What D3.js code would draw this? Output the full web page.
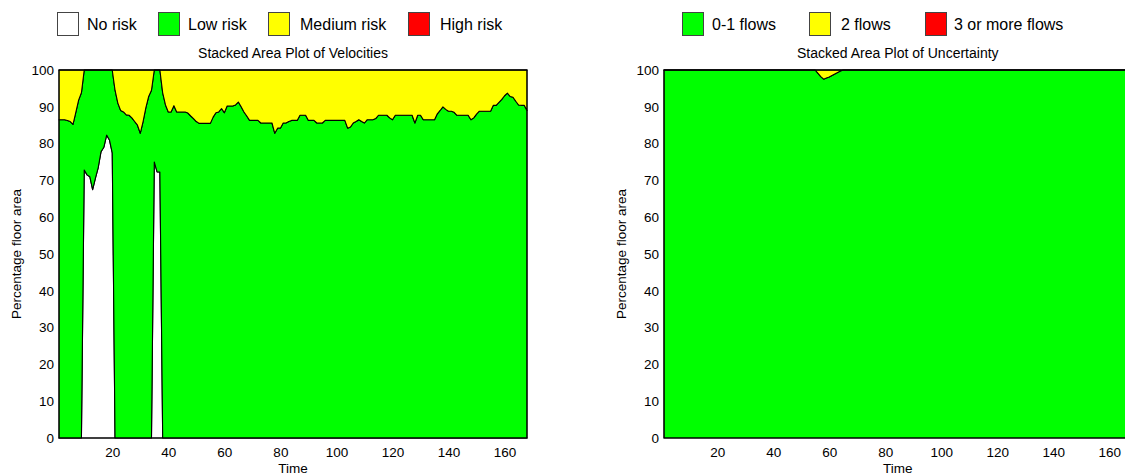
<!DOCTYPE html>
<html>
<head>
<meta charset="utf-8">
<script src="https://cdn.jsdelivr.net/npm/d3@7"></script>
<style>
  html, body { margin: 0; padding: 0; background: #fff; }
  svg { display: block; font-family: "Liberation Sans", Arial, Helvetica, sans-serif; }
</style>
</head>
<body>
<svg id="chart" width="1125" height="476"></svg>
<script>
// ---------------- DATA ----------------
const time = d3.range(1, 169); // time steps 1..168

const xTicks = [20, 40, 60, 80, 100, 120, 140, 160];
const yTicks = [0, 10, 20, 30, 40, 50, 60, 70, 80, 90, 100];

// Velocities (percentage floor area)
const noRisk = [
  0,0,0,0,0,0,0,0,0,72.8,
  71.5,71.0,67.5,70.6,73.5,77.8,79.0,82.3,81.0,77.5,
  0,0,0,0,0,0,0,0,0,0,
  0,0,0,0,75.0,72.3,72.3,0,0,0,
  0,0,0,0,0,0,0,0,0,0,
  0,0,0,0,0,0,0,0,0,0,
  0,0,0,0,0,0,0,0,0,0,
  0,0,0,0,0,0,0,0,0,0,
  0,0,0,0,0,0,0,0,0,0,
  0,0,0,0,0,0,0,0,0,0,
  0,0,0,0,0,0,0,0,0,0,
  0,0,0,0,0,0,0,0,0,0,
  0,0,0,0,0,0,0,0,0,0,
  0,0,0,0,0,0,0,0,0,0,
  0,0,0,0,0,0,0,0,0,0,
  0,0,0,0,0,0,0,0,0,0,
  0,0,0,0,0,0,0,0
];
const lowRisk = [
  86.5,86.5,86.5,86.3,86.0,85.2,88.5,91.8,93.8,27.2,
  28.5,29.0,32.5,29.4,26.5,22.2,21.0,17.7,19.0,22.5,
  94.5,91.0,89.0,88.6,87.8,87.7,87.0,86.0,85.0,82.8,
  86.0,89.8,92.8,94.5,25.0,27.7,27.7,93.8,90.5,88.6,
  88.6,90.3,88.6,88.6,88.6,88.6,88.3,87.5,86.8,86.0,
  85.5,85.5,85.5,85.5,85.5,87.2,88.4,88.6,89.5,88.4,
  90.2,90.2,90.2,90.5,91.3,90.0,88.6,87.5,86.3,86.3,
  86.3,86.3,85.6,85.6,85.6,85.6,85.6,82.8,84.2,84.2,
  85.6,85.6,86.0,86.3,86.3,86.3,87.7,87.7,87.7,86.3,
  86.3,86.3,85.6,85.6,85.6,86.3,86.3,86.3,86.3,86.3,
  86.3,86.3,86.3,84.2,84.5,85.6,86.0,86.5,86.0,85.6,
  86.5,86.5,86.5,86.8,87.7,87.7,87.7,87.7,87.0,86.5,
  87.7,87.7,87.7,87.7,87.7,87.7,87.7,85.6,87.7,87.7,
  86.5,86.5,86.5,86.5,86.5,88.1,89.0,90.0,89.3,88.8,
  88.8,88.5,87.7,87.7,87.7,87.7,87.7,86.5,87.0,88.0,
  88.8,88.8,88.8,88.8,88.8,90.4,90.4,91.2,92.0,93.0,
  93.7,92.8,92.6,91.5,90.5,90.4,90.4,89.0
];
const mediumRisk = [
  13.5,13.5,13.5,13.7,14.0,14.8,11.5,8.2,6.2,0,
  0,0,0,0,0,0,0,0,0,0,
  5.5,9.0,11.0,11.4,12.2,12.3,13.0,14.0,15.0,17.2,
  14.0,10.2,7.2,5.5,0,0,0,6.2,9.5,11.4,
  11.4,9.7,11.4,11.4,11.4,11.4,11.7,12.5,13.2,14.0,
  14.5,14.5,14.5,14.5,14.5,12.8,11.6,11.4,10.5,11.6,
  9.8,9.8,9.8,9.5,8.7,10.0,11.4,12.5,13.7,13.7,
  13.7,13.7,14.4,14.4,14.4,14.4,14.4,17.2,15.8,15.8,
  14.4,14.4,14.0,13.7,13.7,13.7,12.3,12.3,12.3,13.7,
  13.7,13.7,14.4,14.4,14.4,13.7,13.7,13.7,13.7,13.7,
  13.7,13.7,13.7,15.8,15.5,14.4,14.0,13.5,14.0,14.4,
  13.5,13.5,13.5,13.2,12.3,12.3,12.3,12.3,13.0,13.5,
  12.3,12.3,12.3,12.3,12.3,12.3,12.3,14.4,12.3,12.3,
  13.5,13.5,13.5,13.5,13.5,11.9,11.0,10.0,10.7,11.2,
  11.2,11.5,12.3,12.3,12.3,12.3,12.3,13.5,13.0,12.0,
  11.2,11.2,11.2,11.2,11.2,9.6,9.6,8.8,8.0,7.0,
  6.3,7.2,7.4,8.5,9.5,9.6,9.6,11.0
];
const highRisk = [
  0,0,0,0,0,0,0,0,0,0, 0,0,0,0,0,0,0,0,0,0,
  0,0,0,0,0,0,0,0,0,0, 0,0,0,0,0,0,0,0,0,0,
  0,0,0,0,0,0,0,0,0,0, 0,0,0,0,0,0,0,0,0,0,
  0,0,0,0,0,0,0,0,0,0, 0,0,0,0,0,0,0,0,0,0,
  0,0,0,0,0,0,0,0,0,0, 0,0,0,0,0,0,0,0,0,0,
  0,0,0,0,0,0,0,0,0,0, 0,0,0,0,0,0,0,0,0,0,
  0,0,0,0,0,0,0,0,0,0, 0,0,0,0,0,0,0,0,0,0,
  0,0,0,0,0,0,0,0,0,0, 0,0,0,0,0,0,0,0,0,0,
  0,0,0,0,0,0,0,0
];

// Uncertainty (percentage floor area)
const flows01 = [
  100,100,100,100,100,100,100,100,100,100, 100,100,100,100,100,100,100,100,100,100,
  100,100,100,100,100,100,100,100,100,100, 100,100,100,100,100,100,100,100,100,100,
  100,100,100,100,100,100,100,100,100,100, 100,100,100,100,100,99.1,98.2,97.5,97.8,98.1,
  98.5,98.9,99.3,99.7,100,100,100,100,100,100, 100,100,100,100,100,100,100,100,100,100,
  100,100,100,100,100,100,100,100,100,100, 100,100,100,100,100,100,100,100,100,100,
  100,100,100,100,100,100,100,100,100,100, 100,100,100,100,100,100,100,100,100,100,
  100,100,100,100,100,100,100,100,100,100, 100,100,100,100,100,100,100,100,100,100,
  100,100,100,100,100,100,100,100,100,100, 100,100,100,100,100,100,100,100,100,100,
  100,100,100,100,100,100,100,100
];
const flows2 = [
  0,0,0,0,0,0,0,0,0,0, 0,0,0,0,0,0,0,0,0,0,
  0,0,0,0,0,0,0,0,0,0, 0,0,0,0,0,0,0,0,0,0,
  0,0,0,0,0,0,0,0,0,0, 0,0,0,0,0,0.9,1.8,2.5,2.2,1.9,
  1.5,1.1,0.7,0.3,0,0,0,0,0,0, 0,0,0,0,0,0,0,0,0,0,
  0,0,0,0,0,0,0,0,0,0, 0,0,0,0,0,0,0,0,0,0,
  0,0,0,0,0,0,0,0,0,0, 0,0,0,0,0,0,0,0,0,0,
  0,0,0,0,0,0,0,0,0,0, 0,0,0,0,0,0,0,0,0,0,
  0,0,0,0,0,0,0,0,0,0, 0,0,0,0,0,0,0,0,0,0,
  0,0,0,0,0,0,0,0
];
const flows3 = [
  0,0,0,0,0,0,0,0,0,0, 0,0,0,0,0,0,0,0,0,0,
  0,0,0,0,0,0,0,0,0,0, 0,0,0,0,0,0,0,0,0,0,
  0,0,0,0,0,0,0,0,0,0, 0,0,0,0,0,0,0,0,0,0,
  0,0,0,0,0,0,0,0,0,0, 0,0,0,0,0,0,0,0,0,0,
  0,0,0,0,0,0,0,0,0,0, 0,0,0,0,0,0,0,0,0,0,
  0,0,0,0,0,0,0,0,0,0, 0,0,0,0,0,0,0,0,0,0,
  0,0,0,0,0,0,0,0,0,0, 0,0,0,0,0,0,0,0,0,0,
  0,0,0,0,0,0,0,0,0,0, 0,0,0,0,0,0,0,0,0,0,
  0,0,0,0,0,0,0,0
];

const velocityLabels = ["No risk", "Low risk", "Medium risk", "High risk"];
const uncertaintyLabels = ["0-1 flows", "2 flows", "3 or more flows"];

// ---------------- DRAW ----------------
const svg = d3.select("#chart");
const FONT = 13.5;

function panel(opts) {
  const { left, right, top, bottom, series, labels, colors, title, legendPos } = opts;
  const x = d3.scaleLinear().domain([1, 168]).range([left, right]);
  const y = d3.scaleLinear().domain([0, 100]).range([bottom, top]);

  const rows = time.map((t, i) => {
    const r = { t };
    labels.forEach((k, j) => { r[k] = series[j][i]; });
    return r;
  });
  const stacked = d3.stack().keys(labels)(rows);

  const g = svg.append("g");
  const area = d3.area()
    .x(d => x(d.data.t))
    .y0(d => y(d[0]))
    .y1(d => y(d[1]));

  g.selectAll("path.layer")
    .data(stacked)
    .join("path")
    .attr("class", "layer")
    .attr("d", area)
    .attr("fill", (d, i) => colors[i])
    .attr("stroke", "#000")
    .attr("stroke-width", 1.1)
    .attr("stroke-linejoin", "round");

  // box
  g.append("rect")
    .attr("x", left).attr("y", top)
    .attr("width", right - left).attr("height", bottom - top)
    .attr("fill", "none").attr("stroke", "#000").attr("stroke-width", 1);

  // axes
  const ya = g.append("g").attr("transform", `translate(${left},0)`)
    .call(d3.axisLeft(y).tickValues(yTicks).tickSize(0).tickPadding(5));
  ya.select(".domain").remove();
  ya.selectAll("text").attr("font-size", FONT).attr("font-family", "Liberation Sans, Arial, sans-serif").attr("fill", "#000");

  const xa = g.append("g").attr("transform", `translate(0,${bottom})`)
    .call(d3.axisBottom(x).tickValues(xTicks).tickSize(0).tickPadding(9));
  xa.select(".domain").remove();
  xa.selectAll("text").attr("font-size", FONT).attr("font-family", "Liberation Sans, Arial, sans-serif").attr("fill", "#000");

  const cx = (left + right) / 2;
  g.append("text").attr("x", cx).attr("y", 58).attr("text-anchor", "middle")
    .attr("font-size", 14).text(title);
  g.append("text").attr("x", cx).attr("y", 473).attr("text-anchor", "middle")
    .attr("font-size", FONT).text("Time");
  g.append("text")
    .attr("transform", `translate(${left - 38},${(top + bottom) / 2}) rotate(-90)`)
    .attr("text-anchor", "middle").attr("font-size", FONT)
    .text("Percentage floor area");

  // legend
  labels.forEach((lab, i) => {
    const p = legendPos[i];
    g.append("rect").attr("x", p[0] + 0.5).attr("y", 12.5).attr("width", 21).attr("height", 23)
      .attr("fill", colors[i]).attr("stroke", "#444").attr("stroke-width", 1);
    g.append("text").attr("x", p[1]).attr("y", 30).attr("font-size", 16).text(lab);
  });
}

panel({
  left: 59, right: 527, top: 70, bottom: 438,
  series: [noRisk, lowRisk, mediumRisk, highRisk],
  labels: velocityLabels,
  colors: ["#ffffff", "#00ff00", "#ffff00", "#ff0000"],
  title: "Stacked Area Plot of Velocities",
  legendPos: [[57, 87], [158, 188], [268, 300], [408, 440]]
});

panel({
  left: 664, right: 1131.6, top: 70, bottom: 438,
  series: [flows01, flows2, flows3],
  labels: uncertaintyLabels,
  colors: ["#00ff00", "#ffff00", "#ff0000"],
  title: "Stacked Area Plot of Uncertainty",
  legendPos: [[682, 712], [809, 841], [925, 954]]
});
</script>
</body>
</html>
